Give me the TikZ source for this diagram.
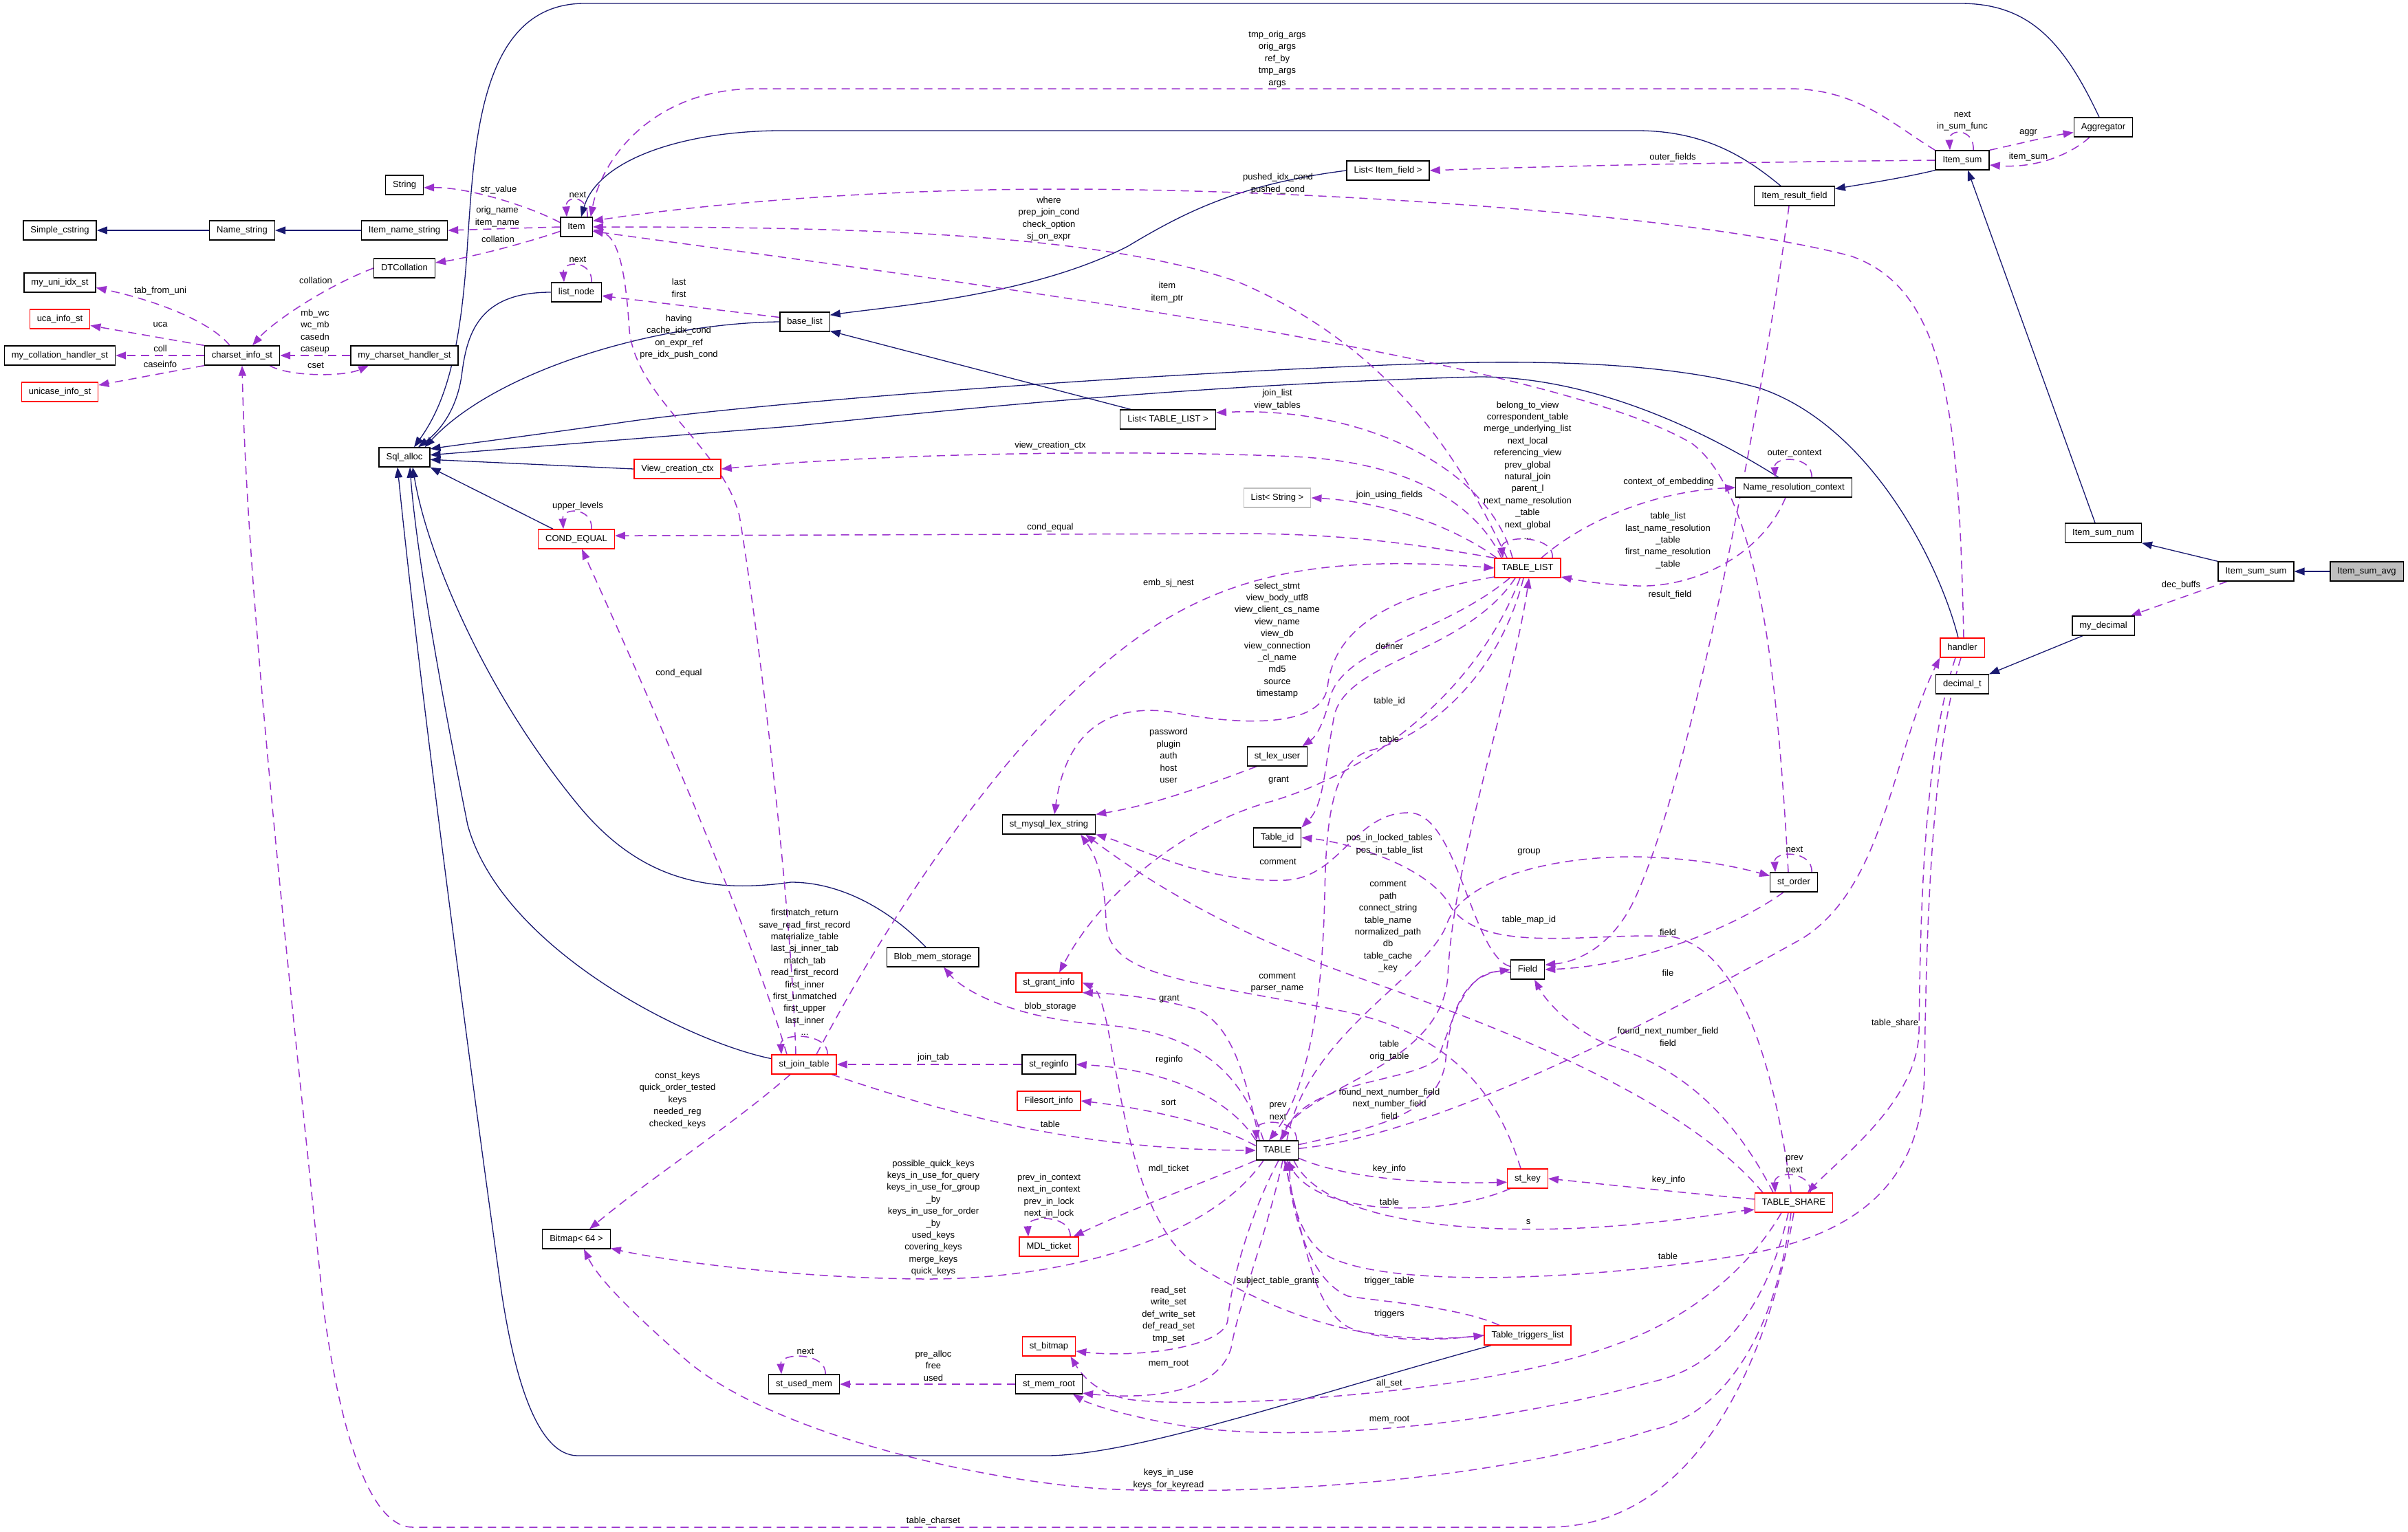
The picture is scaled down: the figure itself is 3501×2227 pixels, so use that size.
\documentclass[tikz,border=0pt]{standalone}
\usepackage{fontspec}
\setmainfont{Liberation Sans}
\usepackage{xcolor}
\usetikzlibrary{arrows.meta,backgrounds}

\definecolor{depcol}{HTML}{9A32CD}
\definecolor{inhcol}{HTML}{191970}
\definecolor{redcol}{HTML}{FF0000}
\definecolor{graycol}{HTML}{BFBFBF}

\begin{document}
\begin{tikzpicture}[
  x=1pt, y=-1pt,
  font=\fontsize{13}{17.4}\selectfont,
  cls/.style={draw=black, fill=white, line width=1.3pt, minimum height=28pt, inner xsep=10.5pt, inner ysep=0pt, text height=9.5pt, text depth=2.8pt},
  clsred/.style={cls, draw=redcol},
  clsgray/.style={cls, draw=graycol},
  lbl/.style={align=center, inner sep=0pt},
  dep/.style={draw=depcol, line width=1.5pt, dash pattern=on 12pt off 8pt, -{Triangle[length=15pt,width=11pt]}},
  inh/.style={draw=inhcol, line width=1.3pt, -{Triangle[length=15pt,width=11pt]}}
]
\useasboundingbox (0,0) rectangle (3501,2227);

% classes
\node[cls] (simple) at (87,335) {Simple\_cstring};
\node[cls] (myuni) at (87,411) {my\_uni\_idx\_st};
\node[clsred] (uca) at (87,464) {uca\_info\_st};
\node[cls] (mycoll) at (87,517) {my\_collation\_handler\_st};
\node[clsred] (unicase) at (87,570) {unicase\_info\_st};
\node[cls] (namestr) at (352,335) {Name\_string};
\node[cls] (charset) at (352,517) {charset\_info\_st};
\node[cls] (string) at (588,269) {String};
\node[cls] (itemname) at (588,335) {Item\_name\_string};
\node[cls] (dtcoll) at (588,390) {DTCollation};
\node[cls] (mycset) at (588,517) {my\_charset\_handler\_st};
\node[cls] (sqlalloc) at (588,665) {Sql\_alloc};
\node[cls] (item) at (838,330) {Item};
\node[cls] (listnode) at (838,425) {list\_node};
\node[clsred] (condeq) at (838,784) {COND\_EQUAL};
\node[cls] (bitmap) at (838,1802) {Bitmap< 64 >};
\node[cls] (baselist) at (1170,468) {base\_list};
\node[clsred] (viewctx) at (985,682) {View\_creation\_ctx};
\node[clsred] (joint) at (1169,1548) {st\_join\_table};
\node[cls] (usedmem) at (1169,2013) {st\_used\_mem};
\node[cls] (blob) at (1356,1392) {Blob\_mem\_storage};
\node[cls] (lexstr) at (1525,1199) {st\_mysql\_lex\_string};
\node[clsred] (grant) at (1525,1429) {st\_grant\_info};
\node[cls] (reginfo) at (1525,1548) {st\_reginfo};
\node[clsred] (filesort) at (1525,1601) {Filesort\_info};
\node[clsred] (mdl) at (1525,1813) {MDL\_ticket};
\node[clsred] (stbitmap) at (1525,1958) {st\_bitmap};
\node[cls] (memroot) at (1525,2013) {st\_mem\_root};
\node[cls] (listtl) at (1698,610) {List< TABLE\_LIST >};
\node[cls] (listif) at (2018,248) {List< Item\_field >};
\node[clsgray] (liststr) at (1857,724) {List< String >};
\node[cls] (lexuser) at (1857,1100) {st\_lex\_user};
\node[cls] (tableid) at (1857,1218) {Table\_id};
\node[cls] (table) at (1857,1673) {TABLE};
\node[clsred] (tl) at (2221,826) {TABLE\_LIST};
\node[cls] (field) at (2221,1410) {Field};
\node[clsred] (stkey) at (2221,1714) {st\_key};
\node[clsred] (trig) at (2221,1942) {Table\_triggers\_list};
\node[cls] (irf) at (2609,285) {Item\_result\_field};
\node[cls] (nrc) at (2608,709) {Name\_resolution\_context};
\node[cls] (storder) at (2608,1283) {st\_order};
\node[clsred] (share) at (2608,1749) {TABLE\_SHARE};
\node[cls] (itemsum) at (2853,233) {Item\_sum};
\node[clsred] (handler) at (2853,942) {handler};
\node[cls] (decimal) at (2853,995) {decimal\_t};
\node[cls] (aggr) at (3058,185) {Aggregator};
\node[cls] (sumnum) at (3058,775) {Item\_sum\_num};
\node[cls] (mydec) at (3058,910) {my\_decimal};
\node[cls] (sumsum) at (3280,831) {Item\_sum\_sum};
\node[cls, fill=graycol] (sumavg) at (3441,831) {Item\_sum\_avg};

\begin{scope}[on background layer]
\fill[white] (0,0) rectangle (3501,2227);
% inheritance
\draw[inh] (namestr) -- (simple);
\draw[inh] (itemname) -- (namestr);
\draw[inh] ([xshift=-20]irf.north) .. controls (2540,230) and (2480,190) .. (2380,190) -- (1150,190) .. controls (1000,188) and (870,230) .. ([xshift=7]item.north);
\draw[inh] (itemsum.south west) .. controls (2770,258) and (2720,266) .. (irf.10);
\draw[inh] ([xshift=-6]aggr.north) .. controls (3000,60) and (2950,5) .. (2850,5) -- (850,5) .. controls (700,5) and (690,200) .. (680,350) .. controls (670,520) and (645,590) .. ([xshift=14]sqlalloc.north);
\draw[inh] (listnode.west) .. controls (700,425) and (680,480) .. (672,540) .. controls (665,600) and (635,630) .. ([xshift=20]sqlalloc.north);
\draw[inh] (baselist.west) .. controls (950,470) and (720,540) .. ([xshift=-8]sqlalloc.north east);
\draw[inh] ([xshift=-22]nrc.north) .. controls (2500,640) and (2330,548) .. (2150,548) .. controls (1700,560) and (1300,605) .. (1150,620) -- (sqlalloc.5);
\draw[inh] ([xshift=-6]handler.north) .. controls (2820,820) and (2720,620) .. (2560,565) .. controls (2420,525) and (2230,525) .. (2100,528) .. controls (1700,540) and (1100,585) .. (900,615) .. controls (760,635) and (680,645) .. (sqlalloc.18);
\draw[inh] (viewctx.west) -- (sqlalloc.-5);
\draw[inh] ([xshift=22]condeq.north west) -- (sqlalloc.south east);
\draw[inh] (joint.170) .. controls (1000,1515) and (730,1380) .. (680,1200) .. controls (640,1000) and (605,800) .. ([xshift=8]sqlalloc.south);
\draw[inh] ([xshift=-10]blob.north) .. controls (1290,1320) and (1220,1283) .. (1150,1283) .. controls (1030,1300) and (930,1280) .. (840,1170) .. controls (700,1000) and (620,800) .. ([xshift=12]sqlalloc.south);
\draw[inh] ([xshift=-53]trig.south) .. controls (1900,2030) and (1650,2117) .. (1520,2117) -- (840,2117) .. controls (780,2117) and (745,2000) .. (725,1850) .. controls (690,1600) and (610,1000) .. ([xshift=-10]sqlalloc.south);
\draw[inh] (listif.west) .. controls (1800,268) and (1720,310) .. (1640,358) .. controls (1500,430) and (1300,445) .. (baselist.15);
\draw[inh] ([xshift=-54]listtl.north) -- (baselist.-20);
\draw[inh] ([xshift=-12]sumnum.north) -- ([xshift=8]itemsum.south);
\draw[inh] (sumsum.north west) -- (sumnum.south east);
\draw[inh] (sumavg) -- (sumsum);
\draw[inh] ([xshift=-30]mydec.south) -- (decimal.north east);
% self references
\draw[dep] ([xshift=16]item.north) .. controls +(2,-32) and +(-2,-32) .. ([xshift=-14]item.north);
\draw[dep] ([xshift=22]listnode.north) .. controls +(2,-32) and +(-2,-32) .. ([xshift=-18]listnode.north);
\draw[dep] ([xshift=22]condeq.north) .. controls +(2,-32) and +(-2,-32) .. ([xshift=-19]condeq.north);
\draw[dep] ([xshift=16]itemsum.north) .. controls +(2,-32) and +(-2,-32) .. ([xshift=-18]itemsum.north);
\draw[dep] ([xshift=36]tl.north) .. controls +(4,-34) and +(-4,-34) .. ([xshift=-36]tl.north);
\draw[dep] ([xshift=26]nrc.north) .. controls +(2,-32) and +(-2,-32) .. ([xshift=-27]nrc.north);
\draw[dep] ([xshift=26]storder.north) .. controls +(2,-32) and +(-2,-32) .. ([xshift=-27]storder.north);
\draw[dep] ([xshift=34]joint.north) .. controls +(2,-32) and +(-2,-32) .. ([xshift=-33]joint.north);
\draw[dep] ([xshift=28]table.north) .. controls +(2,-32) and +(-2,-32) .. ([xshift=-30]table.north);
\draw[dep] ([xshift=31]mdl.north) .. controls +(2,-32) and +(-2,-32) .. ([xshift=-30]mdl.north);
\draw[dep] ([xshift=31]usedmem.north) .. controls +(2,-32) and +(-2,-32) .. ([xshift=-33]usedmem.north);
\draw[dep] ([xshift=24]share.north) .. controls +(2,-32) and +(-2,-32) .. ([xshift=-27]share.north);
% usage
\draw[dep] (item.165) .. controls (770,300) and (680,272) .. (string.-8);
\draw[dep] (item.west) -- (itemname.east);
\draw[dep] (item.195) .. controls (760,355) and (680,375) .. (dtcoll.10);
\draw[dep] (itemsum.north west) .. controls (2750,180) and (2700,129) .. (2600,129) -- (1100,129) .. controls (950,129) and (875,230) .. ([xshift=-3]item.north east);
\draw[dep] ([xshift=-30]tl.north) .. controls (2150,730) and (2060,520) .. (1800,410) .. controls (1600,340) and (1250,330) .. (item.east);
\draw[dep] ([xshift=2]handler.north) .. controls (2848,600) and (2830,420) .. (2690,372) .. controls (2450,310) and (1900,275) .. (1540,275) .. controls (1250,275) and (1000,300) .. (item.20);
\draw[dep] ([xshift=-8]storder.north) .. controls (2585,1000) and (2560,720) .. (2460,645) .. controls (2250,520) and (1400,410) .. (item.-15);
\draw[dep] ([xshift=-12]joint.north) .. controls (1150,1300) and (1100,900) .. (1075,750) .. controls (1050,650) and (925,580) .. (915,480) .. controls (910,400) and (900,345) .. (item.-10);
\draw[dep] (baselist.170) -- (listnode.-8);
\draw[dep] (dtcoll.west) .. controls (470,418) and (395,470) .. ([xshift=15]charset.north);
\draw[dep] ([xshift=-18]charset.north) .. controls (310,472) and (240,440) .. (myuni.-8);
\draw[dep] (charset.north west) -- (uca.-12);
\draw[dep] (charset.west) -- (mycoll.east);
\draw[dep] (charset.south west) -- (unicase.10);
\draw[dep] (mycset.west) -- (charset.east);
\draw[dep] ([xshift=40]charset.south) .. controls (420,548) and (500,548) .. ([xshift=-52]mycset.south);
\draw[dep] (share.south) .. controls (2585,1900) and (2500,2221) .. (2250,2221) -- (600,2221) .. controls (530,2221) and (490,2050) .. (470,1900) .. controls (430,1500) and (360,900) .. (charset.south);
\draw[dep] ([xshift=-38]tl.north) .. controls (2150,740) and (2060,672) .. (1880,664) .. controls (1600,652) and (1250,662) .. (viewctx.east);
\draw[dep] (tl.north west) .. controls (2050,790) and (1950,776) .. (1800,776) -- (condeq.5);
\draw[dep] ([xshift=-25]joint.north) .. controls (1090,1350) and (960,1050) .. ([xshift=8]condeq.south);
\draw[dep] ([xshift=18]joint.north) .. controls (1300,1320) and (1450,1100) .. (1600,970) .. controls (1750,840) and (1900,805) .. (tl.west);
\draw[dep] (itemsum.west) .. controls (2600,235) and (2300,240) .. (listif.east);
\draw[dep] (itemsum.north east) .. controls (2940,208) and (2980,198) .. (aggr.-170);
\draw[dep] ([xshift=-20]aggr.south) .. controls (3010,225) and (2960,245) .. (itemsum.-10);
\draw[dep] ([xshift=-22]tl.north) .. controls (2165,680) and (1980,590) .. (listtl.8);
\draw[dep] ([xshift=-45]tl.north) .. controls (2120,770) and (2020,730) .. (liststr.east);
\draw[dep] ([xshift=20]tl.north) .. controls (2300,760) and (2400,715) .. (nrc.west);
\draw[dep] ([xshift=-12]nrc.south) .. controls (2560,810) and (2460,855) .. (2380,852) .. controls (2330,850) and (2300,845) .. (tl.-15);
\draw[dep] ([xshift=-42]sumsum.south) -- ([xshift=-6]mydec.north east);
\draw[dep] (table.5) .. controls (2100,1650) and (2450,1460) .. (2620,1365) .. controls (2740,1290) and (2750,1100) .. (handler.south west);
\draw[dep] ([xshift=-10]handler.south) .. controls (2795,1100) and (2792,1350) .. (2790,1500) .. controls (2788,1600) and (2680,1680) .. ([xshift=20]share.north);
\draw[dep] ([xshift=-2]handler.south) .. controls (2805,1100) and (2800,1400) .. (2798,1560) .. controls (2795,1720) and (2700,1790) .. (2560,1820) .. controls (2350,1860) and (2000,1880) .. (1920,1820) .. controls (1885,1790) and (1875,1730) .. ([xshift=18]table.south);
\draw[dep] ([xshift=14]table.north) .. controls (1900,1500) and (2080,1420) .. (2105,1340) .. controls (2130,1280) and (2250,1245) .. (2380,1246) .. controls (2470,1248) and (2530,1262) .. (storder.165);
\draw[dep] ([xshift=-15]storder.south) .. controls (2520,1350) and (2380,1405) .. (field.east);
\draw[dep] ([xshift=-8]irf.south) .. controls (2575,500) and (2470,1100) .. (2380,1300) .. controls (2350,1370) and (2300,1398) .. (field.15);
\draw[dep] (table.15) .. controls (2000,1640) and (2095,1620) .. (2102,1540) .. controls (2110,1450) and (2140,1418) .. (field.west);
\draw[dep] ([xshift=-30]share.north) .. controls (2500,1580) and (2400,1540) .. (2340,1520) .. controls (2290,1500) and (2250,1460) .. ([xshift=10]field.south);
\draw[dep] (field.190) .. controls (2130,1400) and (2115,1480) .. (2090,1540) .. controls (2050,1575) and (1900,1570) .. ([xshift=6]table.north);
\draw[dep] ([xshift=-18]tl.south) .. controls (2130,950) and (1960,960) .. (1940,1040) .. controls (1925,1120) and (1925,1170) .. (tableid.north east);
\draw[dep] ([xshift=-26]tl.south) .. controls (2100,920) and (1960,940) .. (1935,1010) .. controls (1925,1050) and (1915,1070) .. ([xshift=-8]lexuser.north east);
\draw[dep] (tl.-165) .. controls (2050,860) and (1940,900) .. (1930,1000) .. controls (1920,1060) and (1800,1055) .. (1700,1035) .. controls (1580,1020) and (1545,1100) .. ([xshift=8]lexstr.north);
\draw[dep] ([xshift=-30]lexuser.south) .. controls (1760,1140) and (1680,1170) .. (lexstr.north east);
\draw[dep] (field.170) .. controls (2140,1390) and (2120,1185) .. (2050,1182) .. controls (1970,1180) and (1950,1275) .. (1870,1280) .. controls (1750,1285) and (1650,1230) .. (lexstr.-12);
\draw[dep] ([xshift=-45]share.north) .. controls (2450,1600) and (2200,1500) .. (1970,1420) .. controls (1800,1360) and (1680,1290) .. ([xshift=-15]lexstr.south east);
\draw[dep] ([xshift=-10]stkey.north) .. controls (2180,1600) and (2120,1505) .. (1950,1470) .. controls (1720,1425) and (1610,1420) .. (1608,1340) .. controls (1606,1270) and (1590,1240) .. ([xshift=-22]lexstr.south east);
\draw[dep] ([xshift=-11]tl.south) .. controls (2150,1000) and (2000,1120) .. (1850,1165) .. controls (1720,1200) and (1600,1300) .. ([xshift=15]grant.north);
\draw[dep] ([xshift=-26]table.north) .. controls (1810,1560) and (1790,1490) .. (1740,1468) .. controls (1680,1450) and (1620,1445) .. (grant.south east);
\draw[dep] (trig.west) .. controls (2000,1960) and (1870,1920) .. (1740,1840) .. controls (1620,1760) and (1625,1450) .. (grant.east);
\draw[dep] ([xshift=-20]table.north) .. controls (1800,1540) and (1720,1500) .. (1600,1490) .. controls (1470,1480) and (1400,1440) .. ([xshift=16]blob.south);
\draw[dep] (reginfo.west) -- (joint.east);
\draw[dep] (joint.-20) .. controls (1350,1610) and (1550,1672) .. (table.west);
\draw[dep] ([xshift=-20]joint.south) .. controls (1060,1640) and (950,1710) .. ([xshift=19]bitmap.north);
\draw[dep] (table.north west) .. controls (1790,1600) and (1700,1555) .. (reginfo.east);
\draw[dep] (table.168) .. controls (1760,1630) and (1650,1610) .. (filesort.east);
\draw[dep] (table.south west) .. controls (1750,1720) and (1640,1760) .. ([xshift=-8]mdl.north east);
\draw[dep] ([xshift=-20]table.south) .. controls (1760,1800) and (1550,1860) .. (1350,1860) .. controls (1150,1860) and (950,1830) .. (bitmap.-15);
\draw[dep] ([xshift=2]table.south) .. controls (1820,1760) and (1790,1860) .. (1785,1920) .. controls (1780,1960) and (1650,1975) .. (stbitmap.-10);
\draw[dep] ([xshift=8]table.south) .. controls (1840,1800) and (1800,1900) .. (1790,1960) .. controls (1770,2030) and (1660,2035) .. (memroot.-15);
\draw[dep] (memroot.west) -- (usedmem.east);
\draw[dep] (table.-20) .. controls (1960,1715) and (2080,1722) .. (stkey.-170);
\draw[dep] (stkey.-150) .. controls (2100,1770) and (1920,1770) .. ([xshift=14]table.south);
\draw[dep] ([xshift=24]table.south) .. controls (1930,1790) and (2200,1800) .. (2400,1778) .. controls (2480,1770) and (2520,1762) .. (share.-170);
\draw[dep] (share.175) .. controls (2450,1735) and (2330,1722) .. (stkey.east);
\draw[dep] ([xshift=10]table.south) .. controls (1900,1820) and (1910,1900) .. (1960,1930) .. controls (2020,1955) and (2100,1948) .. (trig.west);
\draw[dep] ([xshift=-41]trig.north) .. controls (2120,1900) and (2000,1892) .. (1960,1885) .. controls (1900,1860) and (1880,1760) .. ([xshift=12]table.south);
\draw[dep] ([xshift=-18]share.south) .. controls (2540,1850) and (2450,1920) .. (2350,1955) .. controls (2150,2030) and (1750,2050) .. (1640,2035) .. controls (1590,2025) and (1570,1995) .. (stbitmap.-25);
\draw[dep] ([xshift=-8]share.south) .. controls (2570,1900) and (2500,1990) .. (2400,2010) .. controls (2150,2080) and (1850,2100) .. (1700,2070) .. controls (1620,2055) and (1580,2040) .. ([xshift=-14]memroot.south east);
\draw[dep] ([xshift=-4]share.south) .. controls (2580,1950) and (2500,2060) .. (2400,2080) .. controls (2150,2160) and (1800,2175) .. (1600,2165) .. controls (1400,2150) and (1120,2080) .. (1000,1980) .. controls (920,1910) and (870,1860) .. ([xshift=11]bitmap.south);
\draw[dep] ([xshift=-6]tl.south) .. controls (2180,980) and (2080,1070) .. (1990,1092) .. controls (1935,1110) and (1928,1200) .. (1926,1300) .. controls (1922,1500) and (1890,1600) .. ([xshift=-12]table.north);
\draw[dep] ([xshift=4]table.north) .. controls (1880,1580) and (2095,1560) .. (2105,1420) .. controls (2112,1250) and (2200,1000) .. ([xshift=2]tl.south);
\draw[dep] ([xshift=-4]share.north) .. controls (2580,1550) and (2530,1380) .. (2430,1362) .. controls (2320,1355) and (2160,1390) .. (2110,1320) .. controls (2080,1260) and (1960,1225) .. (tableid.east);
\end{scope}

% labels
\node[lbl] (l-strvalue) at (725,276) {str\_value};
\node[lbl] (l-origname) at (723,315) {orig\_name\\item\_name};
\node[lbl] (l-collation) at (724,348) {collation};
\node[lbl] (l-itemnext) at (840,283) {next};
\node[lbl] (l-args) at (1857,86) {tmp\_orig\_args\\orig\_args\\ref\_by\\tmp\_args\\args};
\node[lbl] (l-where) at (1525,318) {where\\prep\_join\_cond\\check\_option\\sj\_on\_expr};
\node[lbl] (l-pushed) at (1858,267) {pushed\_idx\_cond\\pushed\_cond};
\node[lbl] (l-itemptr) at (1697,425) {item\\item\_ptr};
\node[lbl] (l-having) at (987,490) {having\\cache\_idx\_cond\\on\_expr\_ref\\pre\_idx\_push\_cond};
\node[lbl] (l-listnext) at (840,377) {next};
\node[lbl] (l-lastfirst) at (987,419) {last\\first};
\node[lbl] (l-dtcoll) at (459,408) {collation};
\node[lbl] (l-tabuni) at (233,423) {tab\_from\_uni};
\node[lbl] (l-uca) at (233,472) {uca};
\node[lbl] (l-coll) at (233,507) {coll};
\node[lbl] (l-caseinfo) at (233,530) {caseinfo};
\node[lbl] (l-mbwc) at (458,482) {mb\_wc\\wc\_mb\\casedn\\caseup};
\node[lbl] (l-cset) at (459,531) {cset};
\node[lbl] (l-charset) at (1357,2212) {table\_charset};
\node[lbl] (l-viewctx) at (1527,648) {view\_creation\_ctx};
\node[lbl] (l-upper) at (840,736) {upper\_levels};
\node[lbl] (l-condtl) at (1527,767) {cond\_equal};
\node[lbl] (l-condjt) at (987,979) {cond\_equal};
\node[lbl] (l-embsj) at (1699,848) {emb\_sj\_nest};
\node[lbl] (l-outer) at (2432,229) {outer\_fields};
\node[lbl] (l-sumnext) at (2853,176) {next\\in\_sum\_func};
\node[lbl] (l-aggr) at (2949,193) {aggr};
\node[lbl] (l-itemsum) at (2949,228) {item\_sum};
\node[lbl] (l-joinlist) at (1857,581) {join\_list\\view\_tables};
\node[lbl] (l-using) at (2020,720) {join\_using\_fields};
\node[lbl] (l-tlself) at (2221,684) {belong\_to\_view\\correspondent\_table\\merge\_underlying\_list\\next\_local\\referencing\_view\\prev\_global\\natural\_join\\parent\_l\\next\_name\_resolution\\\_table\\next\_global\\...};
\node[lbl] (l-ctxemb) at (2426,701) {context\_of\_embedding};
\node[lbl] (l-tablelist) at (2425,786) {table\_list\\last\_name\_resolution\\\_table\\first\_name\_resolution\\\_table};
\node[lbl] (l-outerctx) at (2609,660) {outer\_context};
\node[lbl] (l-decbuffs) at (3171,851) {dec\_buffs};
\node[lbl] (l-file) at (2425,1415) {file};
\node[lbl] (l-tshare) at (2755,1488) {table\_share};
\node[lbl] (l-htable) at (2425,1827) {table};
\node[lbl] (l-ordnext) at (2609,1235) {next};
\node[lbl] (l-group) at (2223,1239) {group};
\node[lbl] (l-ordfield) at (2425,1356) {field};
\node[lbl] (l-result) at (2428,865) {result\_field};
\node[lbl] (l-nextnum) at (2020,1605) {found\_next\_number\_field\\next\_number\_field\\field};
\node[lbl] (l-sharefield) at (2425,1508) {found\_next\_number\_field\\field};
\node[lbl] (l-origtable) at (2020,1528) {table\\orig\_table};
\node[lbl] (l-tableid) at (2020,1020) {table\_id};
\node[lbl] (l-definer) at (2020,940) {definer};
\node[lbl] (l-view) at (1857,931) {select\_stmt\\view\_body\_utf8\\view\_client\_cs\_name\\view\_name\\view\_db\\view\_connection\\\_cl\_name\\md5\\source\\timestamp};
\node[lbl] (l-password) at (1699,1099) {password\\plugin\\auth\\host\\user};
\node[lbl] (l-fcomment) at (1858,1253) {comment};
\node[lbl] (l-sharestr) at (2018,1348) {comment\\path\\connect\_string\\table\_name\\normalized\_path\\db\\table\_cache\\\_key};
\node[lbl] (l-parser) at (1857,1429) {comment\\parser\_name};
\node[lbl] (l-tlgrant) at (1859,1135) {grant};
\node[lbl] (l-tgrant) at (1700,1453) {grant};
\node[lbl] (l-subject) at (1858,1863) {subject\_table\_grants};
\node[lbl] (l-blob) at (1527,1464) {blob\_storage};
\node[lbl] (l-jtself) at (1170,1414) {firstmatch\_return\\save\_read\_first\_record\\materialize\_table\\last\_sj\_inner\_tab\\match\_tab\\read\_first\_record\\first\_inner\\first\_unmatched\\first\_upper\\last\_inner\\...};
\node[lbl] (l-jointab) at (1357,1538) {join\_tab};
\node[lbl] (l-jttable) at (1527,1635) {table};
\node[lbl] (l-keys) at (985,1600) {const\_keys\\quick\_order\_tested\\keys\\needed\_reg\\checked\_keys};
\node[lbl] (l-reginfo) at (1700,1541) {reginfo};
\node[lbl] (l-sort) at (1699,1603) {sort};
\node[lbl] (l-tnext) at (1858,1616) {prev\\next};
\node[lbl] (l-mdlself) at (1525,1739) {prev\_in\_context\\next\_in\_context\\prev\_in\_lock\\next\_in\_lock};
\node[lbl] (l-mdl) at (1699,1700) {mdl\_ticket};
\node[lbl] (l-quick) at (1357,1771) {possible\_quick\_keys\\keys\_in\_use\_for\_query\\keys\_in\_use\_for\_group\\\_by\\keys\_in\_use\_for\_order\\\_by\\used\_keys\\covering\_keys\\merge\_keys\\quick\_keys};
\node[lbl] (l-readset) at (1699,1912) {read\_set\\write\_set\\def\_write\_set\\def\_read\_set\\tmp\_set};
\node[lbl] (l-memroot) at (1699,1984) {mem\_root};
\node[lbl] (l-prealloc) at (1357,1986) {pre\_alloc\\free\\used};
\node[lbl] (l-usednext) at (1171,1965) {next};
\node[lbl] (l-keyinfo) at (2020,1700) {key\_info};
\node[lbl] (l-keytable) at (2020,1748) {table};
\node[lbl] (l-s) at (2222,1777) {s};
\node[lbl] (l-skeyinfo) at (2426,1716) {key\_info};
\node[lbl] (l-sharenext) at (2609,1693) {prev\\next};
\node[lbl] (l-triggers) at (2020,1911) {triggers};
\node[lbl] (l-trigtable) at (2020,1863) {trigger\_table};
\node[lbl] (l-allset) at (2020,2012) {all\_set};
\node[lbl] (l-smemroot) at (2020,2065) {mem\_root};
\node[lbl] (l-keysinuse) at (1699,2151) {keys\_in\_use\\keys\_for\_keyread};
\node[lbl] (l-tltable) at (2020,1075) {table};
\node[lbl] (l-posin) at (2020,1228) {pos\_in\_locked\_tables\\pos\_in\_table\_list};
\node[lbl] (l-mapid) at (2223,1338) {table\_map\_id};
\end{tikzpicture}
\end{document}
